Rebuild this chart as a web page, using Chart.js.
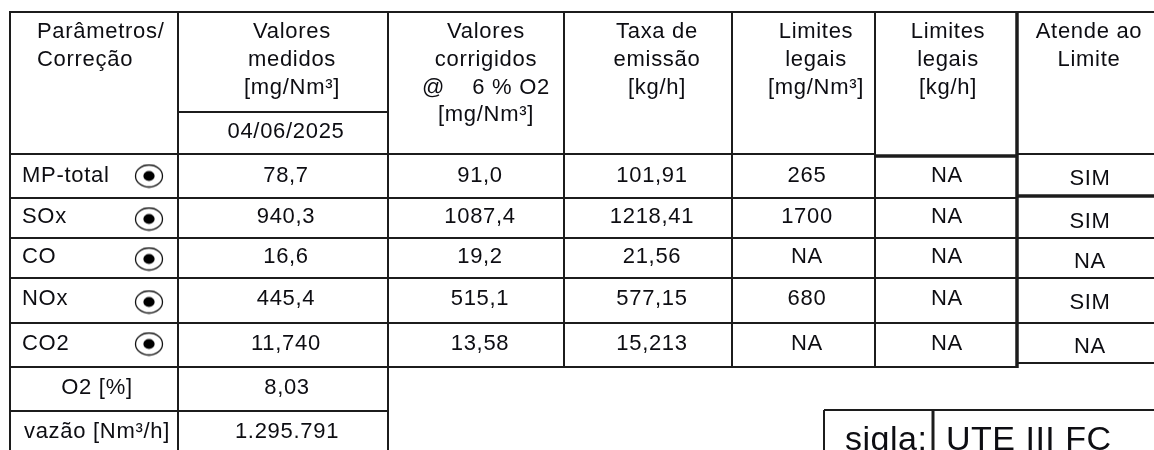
<!DOCTYPE html>
<html lang="pt-BR">
<head>
<meta charset="utf-8">
<title>Parâmetros / Correção</title>
<script src="https://cdn.jsdelivr.net/npm/chart.js@4.4.1/dist/chart.umd.min.js"></script>
<style>
  html, body { margin: 0; padding: 0; background: #ffffff; overflow: hidden; }
  #wrap { width: 1154px; height: 450px; position: relative; }
</style>
</head>
<body>
<div id="wrap"><canvas id="c"></canvas></div>
<script>
// ---------------- DATA ----------------
const parametros = ['MP-total', 'SOx', 'CO', 'NOx', 'CO2'];
const valoresMedidos = ['78,7', '940,3', '16,6', '445,4', '11,740'];
const valoresCorrigidos = ['91,0', '1087,4', '19,2', '515,1', '13,58'];
const taxaEmissao = ['101,91', '1218,41', '21,56', '577,15', '15,213'];
const limitesConcentracao = ['265', '1700', 'NA', '680', 'NA'];
const limitesTaxa = ['NA', 'NA', 'NA', 'NA', 'NA'];
const atendeLimite = ['SIM', 'SIM', 'NA', 'SIM', 'NA'];
const dataColeta = '04/06/2025';
const extraLabels = ['O2 [%]', 'vazão [Nm³/h]'];
const extraValues = ['8,03', '1.295.791'];
const siglaLabel = 'sigla:';
const siglaValue = 'UTE III FC';

const headerCol1 = ['Parâmetros/', 'Correção'];
const headerCol2 = ['Valores', 'medidos', '[mg/Nm³]'];
const headerCol3 = ['Valores', 'corrigidos', '@    6 % O2', '[mg/Nm³]'];
const headerCol4 = ['Taxa de', 'emissão', '[kg/h]'];
const headerCol5 = ['Limites', 'legais', '[mg/Nm³]'];
const headerCol6 = ['Limites', 'legais', '[kg/h]'];
const headerCol7 = ['Atende ao', 'Limite'];

// ---------------- LAYOUT (positions in scale units) ----------------
const colEdges = [10, 178, 388, 564, 732, 875, 1017, 1160];
const headerCenters = [null, 292, 486, 657, 816, 948, 1089];
const dataCenters = [null, 286, 480, 652, 807, 947, 1090];
const headerBaselines = [38, 66, 94, 121];
const rowEdges = [154, 198, 238, 278, 323, 367, 411];
const rowBaselines = [182, 223, 263, 305, 350];
const atendeBaselines = [185, 228, 268, 309, 353];
const extraBaselines = [394, 438];
const radioCenters = [176, 219, 259, 302, 344];
const radioX = 149;

const TEXT = '#0d0d12';
const LINE = '#1c1c1c';
const FONT = '"Liberation Sans", Arial, sans-serif';

// radio-button marker (slightly wide ellipse) used as the point style
function makeRadio() {
  const w = 30, hgt = 25;
  const cv = document.createElement('canvas');
  cv.width = w; cv.height = hgt;
  const c = cv.getContext('2d');
  c.fillStyle = '#ffffff';
  c.strokeStyle = '#111111';
  c.lineWidth = 1.3;
  c.beginPath();
  c.ellipse(w / 2, hgt / 2, 13.5, 11, 0, 0, Math.PI * 2);
  c.fill();
  c.stroke();
  c.fillStyle = '#000000';
  c.beginPath();
  c.ellipse(w / 2, hgt / 2, 5.6, 5, 0, 0, Math.PI * 2);
  c.fill();
  return cv;
}

const tablePlugin = {
  id: 'tablePlugin',
  beforeDatasetsDraw(chart) {
    const ctx = chart.ctx;
    const xs = chart.scales.x, ys = chart.scales.y;
    const X = v => xs.getPixelForValue(v);
    const Y = v => ys.getPixelForValue(v);
    ctx.save();
    ctx.fillStyle = '#ffffff';
    ctx.fillRect(0, 0, chart.width, chart.height);
    ctx.strokeStyle = LINE;
    ctx.lineCap = 'butt';
    const h = (y, x1, x2, w) => { ctx.lineWidth = w || 2; ctx.beginPath(); ctx.moveTo(X(x1), Y(y)); ctx.lineTo(X(x2), Y(y)); ctx.stroke(); };
    const v = (x, y1, y2, w) => { ctx.lineWidth = w || 2; ctx.beginPath(); ctx.moveTo(X(x), Y(y1)); ctx.lineTo(X(x), Y(y2)); ctx.stroke(); };

    const top = 12, right = colEdges[7], bottom = 460;
    // horizontal lines
    h(top, colEdges[0] - 1, right);
    h(112, colEdges[1], colEdges[2]);
    h(rowEdges[0], colEdges[0], colEdges[5]);
    h(156, colEdges[5], colEdges[6], 3.5);
    h(rowEdges[0], colEdges[6], right);
    h(rowEdges[1], colEdges[0], colEdges[6]);
    h(196, colEdges[6], right, 3.5);
    for (let i = 2; i <= 4; i++) h(rowEdges[i], colEdges[0], right);
    h(rowEdges[5], colEdges[0], colEdges[6]);
    h(363, colEdges[6], right);
    h(rowEdges[6], colEdges[0], colEdges[2]);
    // vertical lines
    v(colEdges[0], top, bottom);
    v(colEdges[1], top, bottom);
    v(colEdges[2], top, bottom);
    v(colEdges[3], top, rowEdges[5]);
    v(colEdges[4], top, rowEdges[5]);
    v(colEdges[5], top, rowEdges[5]);
    v(colEdges[6], top, rowEdges[5] + 1, 3.5);
    // sigla box
    h(410, 824, right);
    v(824, 410, bottom);
    v(933, 410, bottom, 3);

    // texts
    ctx.fillStyle = TEXT;
    ctx.textBaseline = 'alphabetic';
    ctx.font = '22px ' + FONT;
    if ('letterSpacing' in ctx) ctx.letterSpacing = '0.7px';
    const t = (s, x, y, align) => { ctx.textAlign = align || 'center'; ctx.fillText(s, X(x), Y(y)); };

    headerCol1.forEach((s, i) => t(s, 37, headerBaselines[i], 'left'));
    const heads = [null, headerCol2, headerCol3, headerCol4, headerCol5, headerCol6, headerCol7];
    for (let c = 1; c < heads.length; c++) {
      heads[c].forEach((s, i) => t(s, headerCenters[c], headerBaselines[i]));
    }
    t(dataColeta, dataCenters[1], 138);

    const cols = [valoresMedidos, valoresCorrigidos, taxaEmissao, limitesConcentracao, limitesTaxa];
    parametros.forEach((p, r) => {
      t(p, 22, rowBaselines[r], 'left');
      cols.forEach((arr, c) => t(arr[r], dataCenters[c + 1], rowBaselines[r]));
      t(atendeLimite[r], dataCenters[6], atendeBaselines[r]);
    });
    extraLabels.forEach((s, i) => t(s, 97, extraBaselines[i]));
    extraValues.forEach((s, i) => t(s, dataCenters[1] + 1, extraBaselines[i]));

    ctx.font = '34px ' + FONT;
    if ('letterSpacing' in ctx) ctx.letterSpacing = '0.5px';
    t(siglaLabel, 845, 450, 'left');
    t(siglaValue, 946, 450, 'left');
    ctx.restore();
  }
};

const radioPoints = radioCenters.map(y => ({ x: radioX, y: y }));

new Chart(document.getElementById('c'), {
  type: 'scatter',
  data: {
    datasets: [
      {
        label: 'radio',
        data: radioPoints,
        pointStyle: makeRadio(),
        pointRadius: 12,
        clip: false
      }
    ]
  },
  options: {
    responsive: true,
    maintainAspectRatio: false,
    animation: false,
    events: [],
    layout: { padding: 0, autoPadding: false },
    plugins: { legend: { display: false }, tooltip: { enabled: false } },
    scales: {
      x: { type: 'linear', min: 0, max: 1154, display: false },
      y: { type: 'linear', min: 0, max: 450, reverse: true, display: false }
    }
  },
  plugins: [tablePlugin]
});
</script>
</body>
</html>
